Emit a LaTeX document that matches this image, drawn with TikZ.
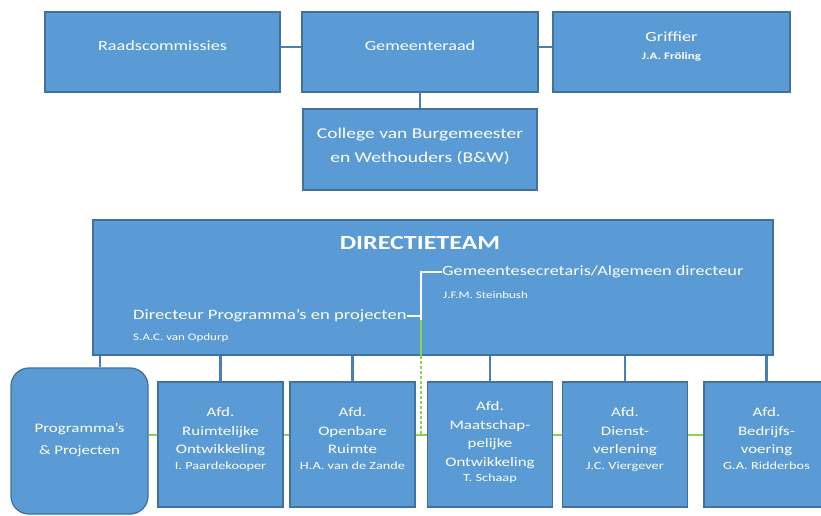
\documentclass[tikz,border=0pt]{standalone}
\usepackage{fontspec}
\setmainfont{Carlito}[FakeStretch=1.3]
\usetikzlibrary{positioning}
\definecolor{vlak}{HTML}{5B9BD5}
\definecolor{rand}{HTML}{41719C}
\definecolor{lijnblauw}{HTML}{4A7FB5}
\definecolor{groen}{HTML}{92D050}

\begin{document}
\begin{tikzpicture}[x=1pt,y=-1pt,
	blok/.style={draw=rand,line width=1.3pt,fill=vlak,text=white,align=center,inner sep=0pt,text depth=12pt,font=\fontsize{14}{17}\selectfont},
	afd/.style={blok,minimum width=125,minimum height=125,font=\fontsize{13}{18.5}\selectfont},
	wit/.style={text=white,inner sep=0pt,anchor=west},
	lijn/.style={draw=lijnblauw,line width=2.6pt},
	groenlijn/.style={draw=groen,line width=2pt},
	klein/.style={font=\fontsize{10}{12}\selectfont}]
		\clip (0,0) rectangle (821,515);
		\fill[white] (0,0) rectangle (821,515);
		\node (raad)[blok,minimum width=235,minimum height=80] at (162.5,52) {Raadscommissies};
		\node (gr)[blok,minimum width=236,minimum height=80] at (420,52) {Gemeenteraad};
		\node (griffier)[blok,minimum width=237,minimum height=80] at (671.5,52) {Griffier\\[1pt]{\fontsize{10}{12}\selectfont\bfseries J.A. Fröling}};
		\node (bw)[blok,minimum width=234,minimum height=81,font=\fontsize{15}{24}\selectfont,text depth=8pt] at (420,149.5) {College van Burgemeester\\en Wethouders (B\&W)};
		\node (dt)[blok,minimum width=680,minimum height=135,text depth=0pt] at (433,287.5) {};
		\node (dttitel)[text=white,inner sep=0pt,font=\fontsize{20}{24}\selectfont\bfseries] at (420,243) {DIRECTIETEAM};
		\node (gs)[wit,font=\fontsize{14}{17}\selectfont] at (442,272) {Gemeentesecretaris/Algemeen directeur};
		\node (gsnaam)[wit,klein] at (443,295) {J.F.M. Steinbush};
		\node (dp)[wit,font=\fontsize{14.3}{17}\selectfont] at (133,316) {Directeur Programma's en projecten};
		\node (dpnaam)[wit,klein] at (133,338) {S.A.C. van Opdurp};
		\coordinate (knik) at (421,320);
		\coordinate (gl) at (0,435);
		\node (proj)[blok,rounded corners=18pt,minimum width=137,minimum height=146,text depth=4pt,font=\fontsize{13}{22}\selectfont] at (79.5,441) {Programma's\\\& Projecten};
		\node (ro)[afd] at (220.5,444.5) {Afd.\\Ruimtelijke\\Ontwikkeling\\[-3pt]{\fontsize{11}{12}\selectfont I. Paardekooper}};
		\node (or)[afd] at (352.5,444.5) {Afd.\\Openbare\\Ruimte\\[-3pt]{\fontsize{11}{12}\selectfont H.A. van de Zande}};
		\node (mo)[afd,text depth=6pt] at (490,444.5) {Afd.\\Maatschap-\\pelijke\\Ontwikkeling\\[-3pt]{\fontsize{11}{12}\selectfont T. Schaap}};
		\node (dv)[afd] at (625,444.5) {Afd.\\Dienst-\\verlening\\[-3pt]{\fontsize{11}{12}\selectfont J.C. Viergever}};
		\node (bv)[afd] at (766.5,444.5) {Afd.\\Bedrijfs-\\voering\\[-3pt]{\fontsize{11}{12}\selectfont G.A. Ridderbos}};
		\draw[lijn] ([yshift=5pt]raad.east) -- ([yshift=5pt]gr.west);
		\draw[lijn] ([yshift=5pt]gr.east) -- ([yshift=5pt]griffier.west);
		\draw[lijn] (gr.south) -- (bw.north);
		\draw[lijn] ([xshift=20.5pt]proj.north) -- ([xshift=20.5pt]proj.north |- dt.south);
		\foreach \n in {ro,or,mo,dv,bv}
			\draw[lijn] (\n.north) -- (\n.north |- dt.south);
		\foreach \a/\b in {proj/ro,ro/or,or/mo,mo/dv,dv/bv}
			\draw[groenlijn] (\a.east |- gl) -- (\b.west |- gl);
		\draw[draw=white,line width=1.5pt] (dp.east) -| (knik) |- (gs.west);
		\draw[groenlijn] (knik) -- (knik |- dt.south);
		\draw[groenlijn,densely dashed] (knik |- dt.south) -- (knik |- gl);
\end{tikzpicture}
\end{document}
